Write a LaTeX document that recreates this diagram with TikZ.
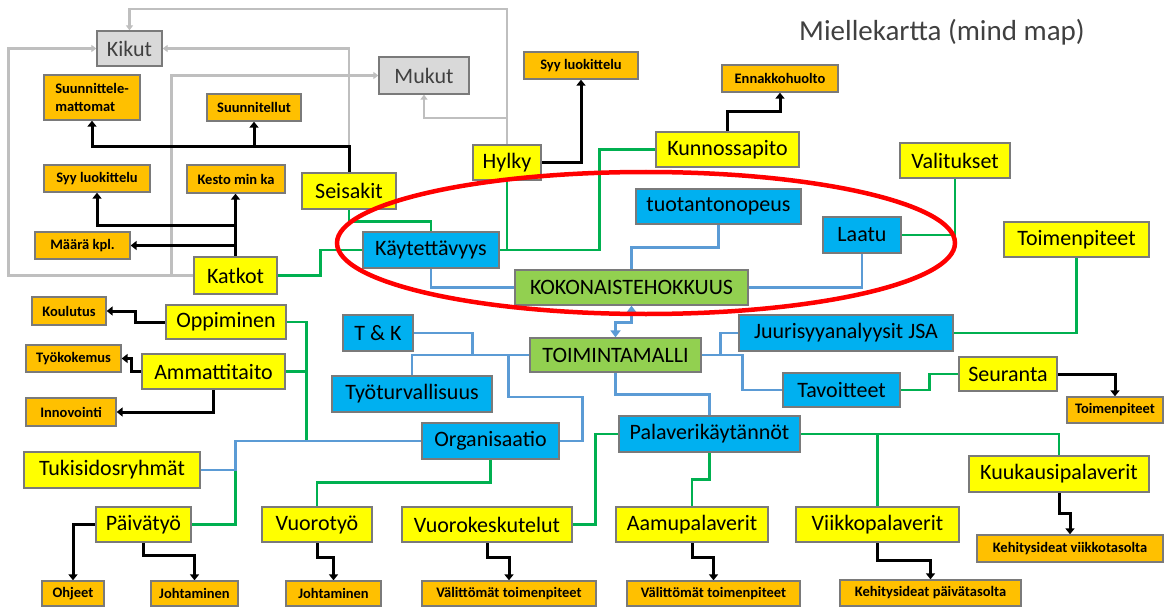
\documentclass[tikz,border=0pt]{standalone}
\usepackage{fontspec}
\setmainfont{Carlito}
\usetikzlibrary{arrows.meta}
\definecolor{boxyellow}{HTML}{FFFF00}
\definecolor{boxorange}{HTML}{FFC000}
\definecolor{boxblue}{HTML}{00B0F0}
\definecolor{boxgreen}{HTML}{92D050}
\definecolor{boxgray}{HTML}{D9D9D9}
\definecolor{edgegray}{HTML}{7A7A7A}
\definecolor{linkgreen}{HTML}{00B050}
\definecolor{linkblue}{HTML}{5B9BD5}
\definecolor{linkgray}{HTML}{BFBFBF}
\definecolor{titlegray}{HTML}{404040}
\definecolor{ringred}{HTML}{FF0000}
\pgfdeclarelayer{paper}
\pgfdeclarelayer{links}
\pgfsetlayers{paper,links,main}
\tikzset{
  box/.style={draw=edgegray, line width=1.3pt, inner sep=0pt, text=black},
  wh/.style 2 args={minimum width=#1pt, minimum height=#2pt},
  bigtext/.style={font=\fontsize{22}{26}\selectfont},
  ybox/.style={box, bigtext, fill=boxyellow},
  bbox/.style={box, bigtext, fill=boxblue},
  gbox/.style={box, bigtext, fill=boxgreen},
  kbox/.style={box, bigtext, fill=boxgray, text=titlegray},
  obox/.style={box, fill=boxorange, font=\fontsize{14.5}{18}\selectfont\bfseries},
  blk/.style={draw=black, line width=3pt, -{Triangle[width=9pt,length=6pt]}},
  grl/.style={draw=linkgray, line width=2.3pt, -{Triangle[width=7pt,length=5pt]}},
  grn/.style={draw=linkgreen, line width=2.5pt},
  blu/.style={draw=linkblue, line width=2.5pt},
}
\begin{document}
\begin{tikzpicture}[x=1pt, y=-1pt]
\useasboundingbox (0,0) rectangle (1165,607);
\begin{pgfonlayer}{paper}
\fill[white] (0,0) rectangle (1165,607);
\end{pgfonlayer}

% title
\node[text=titlegray, font=\fontsize{29}{34}\selectfont, inner sep=0pt] (title) at (942,32) {Miellekartta (mind map)};

% grey category boxes
\node[kbox, wh={65}{35}] (kikut) at (129.5,48.5) {Kikut};
\node[kbox, wh={90}{37}] (mukut) at (424,75.5) {Mukut};

% orange leaf boxes
\node[obox, wh={96}{45}, align=left] (suunm) at (92,97.5) {Suunnittele-\\mattomat};
\node[obox, wh={94}{27}] (suunn) at (254,107.5) {Suunnitellut};
\node[obox, wh={106}{27}] (syyL) at (97,178.5) {Syy luokittelu};
\node[obox, wh={98}{28}] (kesto) at (236,179) {Kesto min ka};
\node[obox, wh={95}{27}] (maara) at (82.5,245.5) {Määrä kpl.};
\node[obox, wh={114}{27}] (syyT) at (581,65.5) {Syy luokittelu};
\node[obox, wh={116}{27}] (ennak) at (780,78.5) {Ennakkohuolto};
\node[obox, wh={74}{28}] (koulutus) at (69,311) {Koulutus};
\node[obox, wh={95}{27}] (tyokok) at (73.5,358.5) {Työkokemus};
\node[obox, wh={90}{28}] (innov) at (71,412) {Innovointi};
\node[obox, wh={62}{25}] (ohjeet) at (73,593.5) {Ohjeet};
\node[obox, wh={87}{25}] (johtP) at (194.5,593.5) {Johtaminen};
\node[obox, wh={95}{25}] (johtV) at (333.5,593.5) {Johtaminen};
\node[obox, wh={174}{25}] (valit1) at (509,593.5) {Välittömät toimenpiteet};
\node[obox, wh={173}{25}] (valit2) at (713.5,593.5) {Välittömät toimenpiteet};
\node[obox, wh={181}{26}] (kehP) at (930.5,593) {Kehitysideat päivätasolta};
\node[obox, wh={186}{27}] (kehV) at (1070,548.5) {Kehitysideat viikkotasolta};
\node[obox, wh={96}{26}] (toimO) at (1115,410) {Toimenpiteet};

% yellow boxes
\node[ybox, wh={94}{36}] (seisakit) at (349,191) {Seisakit};
\node[ybox, wh={83}{37}] (katkot) at (235.5,275.5) {Katkot};
\node[ybox, wh={68}{35}] (hylky) at (507,162.5) {Hylky};
\node[ybox, wh={143}{35}] (kunno) at (727.5,149.5) {Kunnossapito};
\node[ybox, wh={110}{35}] (valitukset) at (955,160.5) {Valitukset};
\node[ybox, wh={145}{35}] (toimY) at (1076.5,239.5) {Toimenpiteet};
\node[ybox, wh={120}{34}] (oppim) at (226,322) {Oppiminen};
\node[ybox, wh={143}{35}] (ammat) at (213.5,371.5) {Ammattitaito};
\node[ybox, wh={176}{36}] (tuki) at (112,470) {Tukisidosryhmät};
\node[ybox, wh={95}{35}] (paiva) at (143.5,524.5) {Päivätyö};
\node[ybox, wh={110}{35}] (vuoro) at (317,524.5) {Vuorotyö};
\node[ybox, wh={170}{35}] (vuorok) at (487,524.5) {Vuorokeskutelut};
\node[ybox, wh={152}{35}] (aamu) at (692,524.5) {Aamupalaverit};
\node[ybox, wh={163}{35}] (viikko) at (877.5,524.5) {Viikkopalaverit};
\node[ybox, wh={180}{36}] (kuukausi) at (1059,474) {Kuukausipalaverit};
\node[ybox, wh={98}{34}] (seuranta) at (1008,374) {Seuranta};

% blue boxes
\node[bbox, wh={136}{36}] (kayt) at (431,250) {Käytettävyys};
\node[bbox, wh={165}{35}] (tuot) at (718.5,206.5) {tuotantonopeus};
\node[bbox, wh={78}{36}] (laatu) at (862,235) {Laatu};
\node[bbox, wh={70}{36}] (tk) at (378,333) {T \& K};
\node[bbox, wh={160}{36}] (tyot) at (412,394) {Työturvallisuus};
\node[bbox, wh={137}{36}] (org) at (490.5,441) {Organisaatio};
\node[bbox, wh={181}{36}] (pala) at (709.5,434) {Palaverikäytännöt};
\node[bbox, wh={214}{36}] (jsa) at (846,333) {Juurisyyanalyysit JSA};
\node[bbox, wh={117}{34}] (tavo) at (841.5,390) {Tavoitteet};

% green core boxes
\node[gbox, wh={233}{35}] (koko) at (631.5,287.5) {KOKONAISTEHOKKUUS};
\node[gbox, wh={171}{34}] (toim) at (615.5,355) {TOIMINTAMALLI};

\begin{pgfonlayer}{links}
% grey feedback links
\draw[grl] (katkot.west) -- ++(-185,0) |- (kikut.west);
\draw[grl] (katkot.west) -- ++(-22,0) |- (mukut.west);
\draw[grl] (seisakit.north) |- (kikut.east);
\draw[grl] (hylky.north) -- ++(0,-135) -| (kikut.north);
\draw[grl] (hylky.north) -- ++(0,-26) -| (mukut.south);

% black leaf arrows
\draw[blk] (seisakit.north) -- ++(0,-26) -| (suunn.south);
\draw[blk] (seisakit.north) -- ++(0,-26) -| (suunm.south);
\draw[blk] (katkot.north) -- (katkot.north |- kesto.south);
\draw[blk] (katkot.north) -- ++(0,-31) -| (syyL.south);
\draw[blk] (katkot.north) |- (maara.east);
\draw[blk] (hylky.east) -| (syyT.south);
\draw[blk] (kunno.north) -- ++(0,-20) -| (ennak.south);
\draw[blk] (oppim.west) -- ++(-30,0) |- (koulutus.east);
\draw[blk] (ammat.west) -- ++(-10,0) |- (tyokok.east);
\draw[blk] (ammat.south) |- (innov.east);
\draw[blk] (paiva.west) -| (ohjeet.north);
\draw[blk] (paiva.south) -- ++(0,13) -| (johtP.north);
\draw[blk] (vuoro.south) -- ++(0,15) -| (johtV.north);
\draw[blk] (vuorok.south) -- ++(0,15) -| (valit1.north);
\draw[blk] (aamu.south) -- ++(0,15) -| (valit2.north);
\draw[blk] (viikko.south) -- ++(0,18) -| (kehP.north);
\draw[blk] (kuukausi.south) -- ++(0,21) -| (kehV.north);
\draw[blk] (seuranta.east) -| (toimO.north);

% green links
\draw[grn] (seisakit.south) -- ++(0,12) -| (kayt.north);
\draw[grn] (katkot.east) -- ++(43,0) |- (kayt.west);
\draw[grn] (hylky.south) |- (kayt.east);
\draw[grn] (kunno.west) -- ++(-56,0) |- (kayt.east);
\draw[grn] (valitukset.south) |- (laatu.east);
\draw[grn] (toimY.south) |- (jsa.east);
\draw[grn] (tavo.east) -- ++(29,0) |- (seuranta.west);
\draw[grn] (oppim.east) -- ++(20,0) |- (org.west);
\draw[grn] (ammat.east) -- ++(21,0) |- (org.west);
\draw[grn] (paiva.east) -- ++(44,0) |- (org.west);
\draw[grn] (vuoro.north) -- ++(0,-24) -| (org.south);
\draw[grn] (vuorok.east) -- ++(23,0) |- (pala.west);
\draw[grn] (pala.south) -- ++(0,27) -| (aamu.north);
\draw[grn] (pala.east) -| (viikko.north);
\draw[grn] (pala.east) -| (kuukausi.north);

% blue links
\draw[blu] (tuot.south) -- ++(0,23) -| (koko.north);
\draw[blu] (laatu.south) |- (koko.east);
\draw[blu] (kayt.south) |- (koko.west);
\draw[blu] (tk.east) -- ++(59,0) |- (toim.west);
\draw[blu] (tyot.north) |- (toim.west);
\draw[blu] (org.east) -- ++(23,0) -- ++(0,-44) -- ++(-74,0) |- (toim.west);
\draw[blu] (toim.south) -- ++(0,22) -| (pala.north);
\draw[blu] (toim.east) -- ++(19,0) |- (jsa.west);
\draw[blu] (toim.east) -- ++(41,0) |- (tavo.west);
\draw[blu] (tuki.east) -- ++(35,0) |- (org.west);
\draw[blu, {Triangle[width=10pt,length=7pt]}-{Triangle[width=10pt,length=7pt]}] (koko.south) -- ++(0,17) -| (toim.north);
\end{pgfonlayer}

% red ring round the efficiency core
\draw[ringred, line width=4.5pt] (646,243) ellipse [x radius=309pt, y radius=71pt];
\end{tikzpicture}
\end{document}
